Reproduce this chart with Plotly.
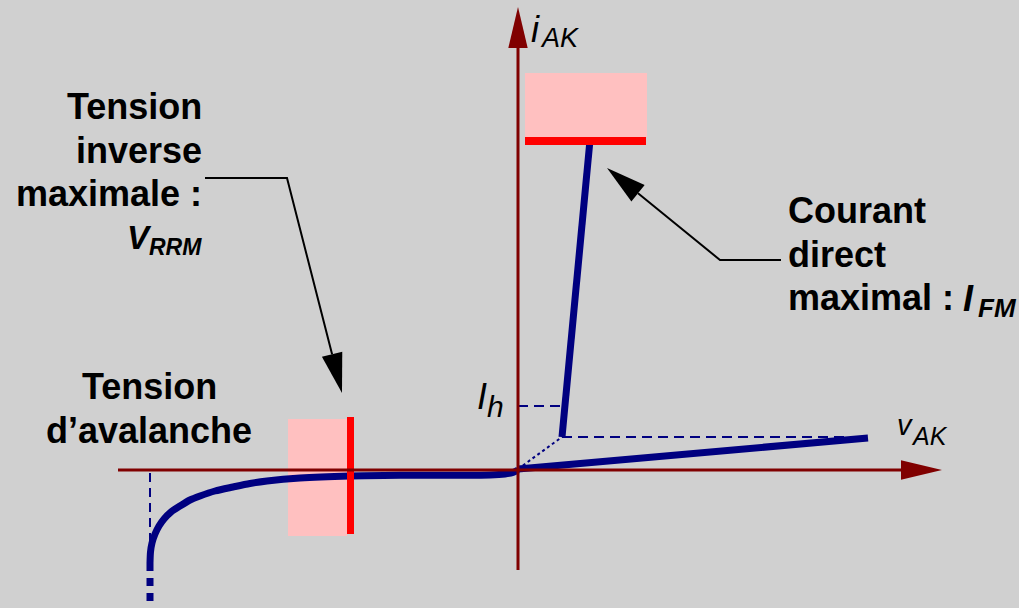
import math
import plotly.graph_objects as go

# ---------------- data (v_AK horizontal, i_AK vertical; origin at axes crossing) ----------------
# reverse characteristic: avalanche knee -> origin
rev_v = [-368, -367.5, -366, -363, -359, -354, -347, -338, -328, -318, -303, -285, -268, -251,
         -218, -168, -118, -68, -28, -13, -5, 0]
rev_i = [-93, -82, -73, -64, -56, -49, -42, -36, -30, -26, -21, -17, -13.5, -11,
         -8, -6, -5.3, -5.2, -5, -4, -2.5, 0]
# avalanche continuation (dotted)
aval_v = [-368, -368]
aval_i = [-93, -160]
# forward blocking state
fwd_v = [0, 350]
fwd_i = [1, 32]
# conduction branch
on_v = [44, 72]
on_i = [33, 330]
# holding current I_h (dashed)
ih_v = [0, 47]
ih_i = [64, 64]
# switching transition (dotted)
tr_v = [0, 44]
tr_i = [1, 33]
# projection of the switching point (dashed)
proj_v = [44, 345]
proj_i = [33, 33]
# avalanche voltage marker (dashed)
vav_v = [-368, -368]
vav_i = [-3, -77]
# I_FM limit: zone and bar
ifm_zone_v = [7, 129]
ifm_zone_i = [333, 397]
ifm_bar_v = [7, 128]
ifm_bar_i = [325, 333]
# V_RRM limit: zone and bar
vrrm_zone_v = [-230, -171]
vrrm_zone_i = [-66, 51]
vrrm_bar_v = [-171, -164]
vrrm_bar_i = [-64, 53]
# axes
haxis_v = [-400, 424]
vaxis_i = [-100, 463]
# leader lines
lead1_v = [-313, -231, -176]
lead1_i = [292, 292, 77]
lead2_v = [263, 202, 89]
lead2_i = [210, 210, 302]

BG = "rgb(208,208,208)"
NAVY = "#000080"
AXC = "#800000"
RED = "#FF0000"
PINK = "rgb(255,192,192)"
FONT = "Liberation Sans, Arial, sans-serif"


def rect(vr, ir):
    return ([vr[0], vr[1], vr[1], vr[0], vr[0]], [ir[0], ir[0], ir[1], ir[1], ir[0]])


def head(tip, frm, L, W):
    dx, dy = tip[0] - frm[0], tip[1] - frm[1]
    n = math.hypot(dx, dy)
    ux, uy = dx / n, dy / n
    bx, by = tip[0] - ux * L, tip[1] - uy * L
    px, py = -uy, ux
    return ([tip[0], bx + px * W, bx - px * W, tip[0]],
            [tip[1], by + py * W, by - py * W, tip[1]]), (bx, by)


fig = go.Figure()


def poly(xy, color):
    fig.add_trace(go.Scatter(x=xy[0], y=xy[1], mode="lines", fill="toself",
                             fillcolor=color, line=dict(width=0, color=color),
                             hoverinfo="skip", showlegend=False))


def line(x, y, color, width, dash="solid", shape="linear", smoothing=1):
    fig.add_trace(go.Scatter(x=x, y=y, mode="lines",
                             line=dict(color=color, width=width, dash=dash, shape=shape,
                                       smoothing=smoothing),
                             hoverinfo="skip", showlegend=False))


# pink zones
poly(rect(ifm_zone_v, ifm_zone_i), PINK)
poly(rect(vrrm_zone_v, vrrm_zone_i), PINK)

# thin dashed / dotted construction lines
line(ih_v, ih_i, NAVY, 2, dash="10px,6px")
line(proj_v, proj_i, NAVY, 2, dash="10px,6px")
line(vav_v, vav_i, NAVY, 2, dash="9px,6px")
line(tr_v, tr_i, NAVY, 2, dash="dot")

# characteristic
line(rev_v, rev_i, NAVY, 7, shape="spline", smoothing=0.8)
line(aval_v, aval_i, NAVY, 7, dash="8px,7px")
line(fwd_v, fwd_i, NAVY, 7)
line(on_v, on_i, NAVY, 7)

# red limit bars
poly(rect(ifm_bar_v, ifm_bar_i), RED)
poly(rect(vrrm_bar_v, vrrm_bar_i), RED)

# axes with arrowheads
htri, hbase = head((haxis_v[1], 0), (haxis_v[0], 0), 41, 9.7)
vtri, vbase = head((0, vaxis_i[1]), (0, vaxis_i[0]), 41, 9.7)
line([haxis_v[0], hbase[0]], [0, 0], AXC, 3)
line([0, 0], [vaxis_i[0], vbase[1]], AXC, 3)
poly(htri, AXC)
poly(vtri, AXC)

# leader lines with arrowheads
for lv, li in ((lead1_v, lead1_i), (lead2_v, lead2_i)):
    tri, base = head((lv[-1], li[-1]), (lv[-2], li[-2]), 40, 10.5)
    line(lv[:-1] + [base[0]], li[:-1] + [base[1]], "black", 2)
    poly(tri, "black")


def txt(s, x, y, size, xanchor="left", bold=False, italic=False):
    t = s
    if italic:
        t = "<i>" + t + "</i>"
    if bold:
        t = "<b>" + t + "</b>"
    fig.add_annotation(x=x, y=y, xref="x", yref="y", text=t, showarrow=False,
                       xanchor=xanchor, yanchor="middle", borderpad=0, borderwidth=0,
                       font=dict(family=FONT, size=size, color="black"))


# left block
txt("Tension", -316, 364, 36, "right", bold=True)
txt("inverse", -316, 320, 36, "right", bold=True)
txt("maximale :", -316, 277, 36, "right", bold=True)
txt("V", -366, 233, 33, "right", bold=True, italic=True)
txt("RRM", -316, 223, 23, "right", bold=True, italic=True)

txt("Tension", -369, 84, 36, "center", bold=True)
txt("d’avalanche", -369, 40, 36, "center", bold=True)

# right block
txt("Courant", 270, 260, 36, bold=True)
txt("direct", 270, 216, 36, bold=True)
txt("maximal :", 270, 173, 36, bold=True)
txt("I", 445, 171.5, 36, bold=True, italic=True)
txt("FM", 460, 162.5, 26, bold=True, italic=True)

# axis labels
txt("i", 13, 441, 36, italic=True)
txt("AK", 22, 432.5, 27, italic=True)
txt("v", 379, 45.4, 29, italic=True)
txt("AK", 393, 34.5, 25, italic=True)
txt("I", -41, 74, 36, italic=True)
txt("h", -31, 64, 30, italic=True)

fig.update_layout(
    width=1019, height=608,
    margin=dict(l=0, r=0, t=0, b=0, pad=0),
    paper_bgcolor=BG, plot_bgcolor=BG,
    showlegend=False,
    xaxis=dict(range=[-518, 501], visible=False, fixedrange=True),
    yaxis=dict(range=[-138, 470], visible=False, fixedrange=True),
)

fig.write_html("out.html", config={"displayModeBar": False},
               post_script="document.body.style.margin='0';document.body.style.overflow='hidden';")
